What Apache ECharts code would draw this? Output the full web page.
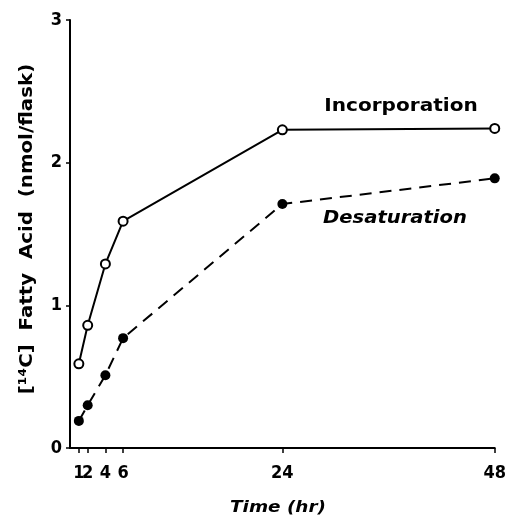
<!DOCTYPE html>
<html>
<head>
<meta charset="utf-8">
<script src="https://cdn.jsdelivr.net/npm/echarts@6/dist/echarts.min.js"></script>
<style>
  html, body { margin: 0; padding: 0; background: #fff; }
  #chart { width: 509px; height: 518px; }
</style>
</head>
<body>
<div id="chart"></div>
<script>
const hours = [1, 2, 4, 6, 24, 48];
const incorporation = [0.59, 0.86, 1.29, 1.59, 2.23, 2.24];
const desaturation = [0.19, 0.30, 0.51, 0.77, 1.71, 1.89];
const xTicks = [1, 2, 4, 6, 24, 48];
// the first label sits too close to "2"; it goes on an overlay axis so it is not dropped
const xTicksMain = [2, 4, 6, 24, 48];
const xTicksFirst = [1];
const yTitle = '[\u00b9\u2074C]  Fatty  Acid  (nmol/flask)';
const xTitle = 'Time (hr)';

const chart = echarts.init(document.getElementById('chart'));

const tickFont = 'DejaVu Sans Condensed';

const tickLabel = {
  hideOverlap: false,
  color: '#000',
  fontFamily: tickFont,
  fontWeight: 'bold',
  fontSize: 18,
  margin: 16
};

chart.setOption({
  backgroundColor: '#fff',
  animation: false,
  grid: { left: 70, right: 13, top: 20, bottom: 70 },
  xAxis: [
    {
      type: 'value',
      min: 0,
      max: 48,
      position: 'bottom',
      axisLine: { lineStyle: { color: '#000', width: 2 } },
      axisTick: { customValues: xTicks, length: 5, lineStyle: { color: '#000', width: 1.5 } },
      axisLabel: Object.assign({ customValues: xTicksMain }, tickLabel),
      splitLine: { show: false }
    },
    {
      type: 'value',
      min: 0,
      max: 48,
      position: 'bottom',
      offset: 0,
      axisLine: { show: false },
      axisTick: { show: false },
      axisLabel: Object.assign({ customValues: xTicksFirst }, tickLabel, { margin: 16 }),
      splitLine: { show: false }
    }
  ],
  yAxis: {
    type: 'value',
    min: 0,
    max: 3,
    interval: 1,
    axisLine: { show: true, lineStyle: { color: '#000', width: 2 } },
    axisTick: { show: true, length: 4, lineStyle: { color: '#000', width: 1.5 } },
    axisLabel: { color: '#000', fontFamily: tickFont, fontWeight: 'bold', fontSize: 18, margin: 8 },
    splitLine: { show: false }
  },
  graphic: [
    {
      type: 'text', x: 27, y: 229, rotation: Math.PI / 2, scaleX: 1.1,
      style: { text: yTitle, fill: '#000', font: 'bold 18px "DejaVu Sans"', align: 'center', verticalAlign: 'middle' }
    },
    {
      type: 'text', x: 278, y: 508, scaleX: 1.15,
      style: { text: xTitle, fill: '#000', font: 'italic bold 16px "DejaVu Sans"', align: 'center', verticalAlign: 'middle' }
    },
    {
      type: 'text', x: 401, y: 107, scaleX: 1.18,
      style: { text: 'Incorporation', fill: '#000', font: 'bold 17px "DejaVu Sans"', align: 'center', verticalAlign: 'middle' }
    },
    {
      type: 'text', x: 395, y: 219, scaleX: 1.15,
      style: { text: 'Desaturation', fill: '#000', font: 'italic bold 17px "DejaVu Sans"', align: 'center', verticalAlign: 'middle' }
    }
  ],
  series: [
    {
      name: 'Incorporation',
      type: 'line',
      data: hours.map((h, i) => [h, incorporation[i]]),
      symbol: 'circle',
      symbolSize: 9,
      itemStyle: { color: '#fff', borderColor: '#000', borderWidth: 2 },
      lineStyle: { color: '#000', width: 2 },
      z: 3
    },
    {
      name: 'Desaturation',
      type: 'line',
      data: hours.map((h, i) => [h, desaturation[i]]),
      symbol: 'circle',
      symbolSize: 10,
      itemStyle: { color: '#000' },
      lineStyle: { color: '#000', width: 2, type: [12, 8] },
      z: 2
    }
  ]
});
</script>
</body>
</html>
